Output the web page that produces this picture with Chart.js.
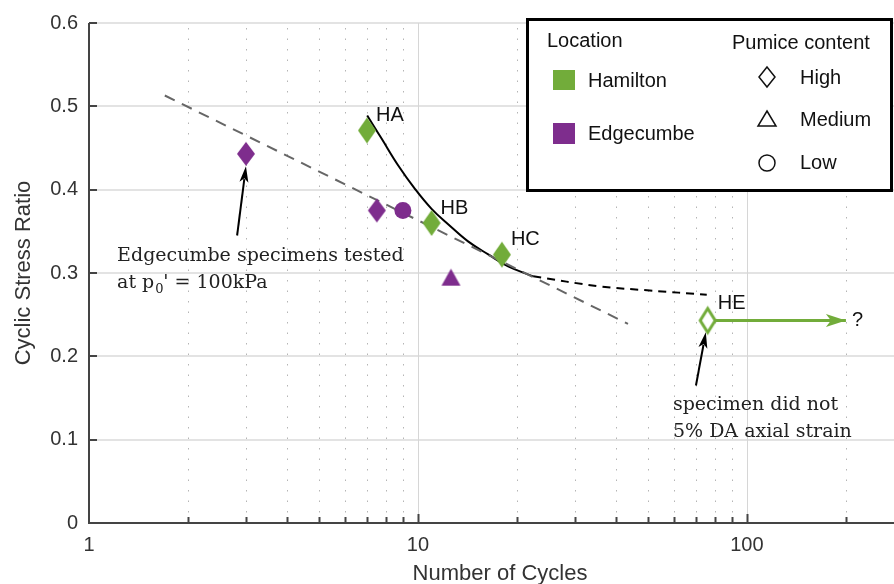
<!DOCTYPE html>
<html>
<head>
<meta charset="utf-8">
<script src="https://cdn.jsdelivr.net/npm/chart.js@4/dist/chart.umd.min.js"></script>
<style>
  html, body { margin: 0; padding: 0; background: #fff; overflow: hidden; }
  #wrap { width: 904px; height: 584px; position: relative; }
</style>
</head>
<body>
<div id="wrap"><canvas id="myChart"></canvas></div>
<script>
// data
const edgeHighCycles = [3.0, 7.5];
const edgeHighCsr = [0.443, 0.375];
const edgeMedCycles = [12.6];
const edgeMedCsr = [0.295];
const edgeLowCycles = [9.0];
const edgeLowCsr = [0.375];
const hamHighCycles = [7.0, 11.0, 18.0];
const hamHighCsr = [0.471, 0.360, 0.322];
const hamHighLabels = ['HA', 'HB', 'HC'];
const hamOpenCycles = [76];
const hamOpenCsr = [0.243];
const hamOpenLabels = ['HE'];
const runOnCycles = [76, 200];     // green arrow, test did not fail
const runOnCsr = [0.243, 0.243];
const edgeTrendCycles = [1.7, 43.5];
const edgeTrendCsr = [0.513, 0.239];
const hamCurveCycles = [7.01, 7.76, 8.71, 9.79, 11.0, 12.4, 14.2, 16.4, 18.8, 22.4];
const hamCurveCsr = [0.489, 0.461, 0.429, 0.401, 0.377, 0.358, 0.338, 0.322, 0.308, 0.296];
const hamExtCycles = [22.4, 35.7, 50.7, 75.5];
const hamExtCsr = [0.296, 0.284, 0.279, 0.274];
const xTickLabels = [1, 10, 100];
const yTicks = [0, 0.1, 0.2, 0.3, 0.4, 0.5, 0.6];

const GREEN = '#72ac3a';
const PURPLE = '#7e2d8d';

const pts = (xs, ys) => xs.map((x, i) => ({ x, y: ys[i] }));

// marker images
function diamond(w, h, fill, stroke, lw) {
  const c = document.createElement('canvas');
  const p = lw ? Math.ceil(lw) + 1 : 1;
  c.width = w + p * 2; c.height = h + p * 2;
  const g = c.getContext('2d');
  g.beginPath();
  g.moveTo(p + w / 2, p); g.lineTo(p + w, p + h / 2);
  g.lineTo(p + w / 2, p + h); g.lineTo(p, p + h / 2); g.closePath();
  g.fillStyle = fill; g.fill();
  if (lw) { g.lineWidth = lw; g.strokeStyle = stroke; g.stroke(); }
  return c;
}
function triangle(w, h, fill) {
  const c = document.createElement('canvas');
  c.width = w + 2; c.height = h + 2;
  const g = c.getContext('2d');
  g.beginPath();
  g.moveTo(1 + w / 2, 1); g.lineTo(1 + w, 1 + h); g.lineTo(1, 1 + h); g.closePath();
  g.fillStyle = fill; g.fill();
  return c;
}

const data = {
  datasets: [
    { label: 'HE', data: pts(hamOpenCycles, hamOpenCsr), pointStyle: diamond(15, 24, '#fff', GREEN, 3), order: 0, showLine: false },
    { label: 'Hamilton high', data: pts(hamHighCycles, hamHighCsr), pointStyle: diamond(18, 26, GREEN), order: 1, showLine: false },
    { label: 'Edgecumbe high', data: pts(edgeHighCycles, edgeHighCsr), pointStyle: diamond(18, 24, PURPLE), order: 1, showLine: false },
    { label: 'Edgecumbe medium', data: pts(edgeMedCycles, edgeMedCsr), pointStyle: triangle(19, 17, PURPLE), order: 1, showLine: false },
    { label: 'Edgecumbe low', data: pts(edgeLowCycles, edgeLowCsr), pointStyle: 'circle', pointRadius: 8.5, backgroundColor: PURPLE, borderWidth: 0, order: 1, showLine: false },
    { label: 'run on', data: pts(runOnCycles, runOnCsr), showLine: true, borderColor: GREEN, borderWidth: 3, pointRadius: 0, order: 5 },
    { label: 'Edgecumbe trend', data: pts(edgeTrendCycles, edgeTrendCsr), showLine: true, borderColor: '#666', borderWidth: 2, borderDash: [11, 8], pointRadius: 0, order: 6 },
    { label: 'Hamilton curve', data: pts(hamCurveCycles, hamCurveCsr), showLine: true, borderColor: '#000', borderWidth: 2, pointRadius: 0, tension: 0.4, order: 6 },
    { label: 'Hamilton ext', data: pts(hamExtCycles, hamExtCsr), showLine: true, borderColor: '#000', borderWidth: 2, borderDash: [8, 6], pointRadius: 0, tension: 0.4, order: 6 }
  ]
};

function arrow(ctx, x1, y1, x2, y2, color, len, half, lw) {
  const a = Math.atan2(y2 - y1, x2 - x1);
  ctx.save();
  ctx.strokeStyle = color; ctx.fillStyle = color; ctx.lineWidth = lw; ctx.setLineDash([]);
  ctx.beginPath();
  ctx.moveTo(x1, y1);
  ctx.lineTo(x2 - Math.cos(a) * len * 0.8, y2 - Math.sin(a) * len * 0.8);
  ctx.stroke();
  ctx.translate(x2, y2); ctx.rotate(a);
  ctx.beginPath();
  ctx.moveTo(0, 0); ctx.lineTo(-len, -half); ctx.lineTo(-len * 0.75, 0); ctx.lineTo(-len, half);
  ctx.closePath(); ctx.fill();
  ctx.restore();
}

const decor = {
  id: 'decor',
  beforeDatasetsDraw(chart) {
    const { ctx, chartArea: a, scales: { x, y } } = chart;
    ctx.save();
    // horizontal grid
    ctx.strokeStyle = '#e3e3e3'; ctx.lineWidth = 2;
    yTicks.forEach(v => {
      if (v === 0) return;
      const py = Math.round(y.getPixelForValue(v));
      ctx.beginPath(); ctx.moveTo(a.left, py); ctx.lineTo(a.right, py); ctx.stroke();
    });
    // vertical grid, major solid, minor dotted
    for (let d = 1; d <= 100; d *= 10) {
      for (let m = 1; m <= 9; m++) {
        const v = d * m;
        if (v <= 1 || v > 280) continue;
        const px = Math.round(x.getPixelForValue(v)) + 0.5;
        ctx.beginPath();
        if (m === 1) { ctx.setLineDash([]); ctx.strokeStyle = '#d6d6d6'; ctx.lineWidth = 1; }
        else { ctx.setLineDash([1.5, 9]); ctx.strokeStyle = '#b5b5b5'; ctx.lineWidth = 1; }
        ctx.moveTo(px, a.bottom); ctx.lineTo(px, a.top); ctx.stroke();
      }
    }
    ctx.setLineDash([]);
    // axes and inward ticks
    ctx.strokeStyle = '#444'; ctx.lineWidth = 2;
    ctx.beginPath();
    ctx.moveTo(a.left, a.top); ctx.lineTo(a.left, a.bottom); ctx.lineTo(a.right + 12, a.bottom);
    yTicks.forEach(v => {
      const py = Math.round(y.getPixelForValue(v));
      ctx.moveTo(a.left, py); ctx.lineTo(a.left + 8, py);
    });
    for (let d = 1; d <= 100; d *= 10) {
      for (let m = 1; m <= 9; m++) {
        const v = d * m;
        if (v <= 1 || v > 280) continue;
        const px = Math.round(x.getPixelForValue(v)) + 0.5;
        ctx.moveTo(px, a.bottom); ctx.lineTo(px, a.bottom - (m === 1 ? 9 : 6));
      }
    }
    ctx.stroke();
    ctx.restore();
  },
  afterDatasetsDraw(chart) {
    const { ctx, scales: { x, y } } = chart;
    const P = (cx, cy) => [x.getPixelForValue(cx), y.getPixelForValue(cy)];
    ctx.save();
    // green arrow head
    const [ex, ey] = P(runOnCycles[1], runOnCsr[1]);
    arrow(ctx, ex - 30, ey, ex, ey, GREEN, 20, 6.5, 3);
    ctx.font = '20px "Liberation Sans", Arial, sans-serif';
    ctx.fillStyle = '#111'; ctx.textBaseline = 'middle'; ctx.textAlign = 'left';
    ctx.fillText('?', ex + 6, ey);
    // point labels
    hamHighCycles.forEach((c, i) => {
      const [px, py] = P(c, hamHighCsr[i]);
      ctx.fillText(hamHighLabels[i], px + 9, py - 15);
    });
    const [hx, hy] = P(hamOpenCycles[0], hamOpenCsr[0]);
    ctx.fillText(hamOpenLabels[0], hx + 10, hy - 17);

    // annotation arrows
    const [t1x, t1y] = P(2.82, 0.345);
    const [h1x, h1y] = P(3.0, 0.428);
    arrow(ctx, t1x, t1y, h1x, h1y, '#000', 16, 4.5, 2);
    const [t2x, t2y] = P(70, 0.165);
    const [h2x, h2y] = P(75, 0.229);
    arrow(ctx, t2x, t2y, h2x, h2y, '#000', 16, 4.5, 2);

    // annotation texts
    ctx.fillStyle = '#222'; ctx.textBaseline = 'alphabetic';
    ctx.font = '19px "DejaVu Serif", "Liberation Serif", serif';
    let tx = t1x - 120, ty = t1y + 25;
    ctx.fillText('Edgecumbe specimens tested', tx, ty);
    ctx.fillText('at p', tx, ty + 27);
    let w = ctx.measureText('at p').width;
    ctx.font = '13px "DejaVu Serif", "Liberation Serif", serif';
    ctx.fillText('0', tx + w + 1, ty + 32);
    ctx.font = '19px "DejaVu Serif", "Liberation Serif", serif';
    ctx.fillText("' = 100kPa", tx + w + 9, ty + 27);
    tx = t2x - 23; ty = t2y + 24;
    ctx.fillText('specimen did not', tx, ty);
    ctx.fillText('5% DA axial strain', tx, ty + 27);

    // legend box
    ctx.fillStyle = '#fff';
    ctx.fillRect(527, 20, 365, 171);
    ctx.lineWidth = 3; ctx.strokeStyle = '#000';
    ctx.strokeRect(527.5, 19.5, 364, 171);
    ctx.fillStyle = '#111'; ctx.textBaseline = 'middle'; ctx.textAlign = 'left';
    ctx.font = '20px "Liberation Sans", Arial, sans-serif';
    ctx.fillText('Location', 547, 41);
    ctx.fillText('Pumice content', 732, 43);
    ctx.fillStyle = GREEN; ctx.fillRect(553, 70, 22, 20);
    ctx.fillStyle = PURPLE; ctx.fillRect(553, 123, 22, 21);
    ctx.fillStyle = '#111';
    ctx.fillText('Hamilton', 588, 81);
    ctx.fillText('Edgecumbe', 588, 134);
    ctx.fillText('High', 800, 78);
    ctx.fillText('Medium', 800, 120);
    ctx.fillText('Low', 800, 163);
    ctx.strokeStyle = '#111'; ctx.lineWidth = 1.5;
    ctx.beginPath();
    ctx.moveTo(767, 67); ctx.lineTo(775, 77); ctx.lineTo(767, 87); ctx.lineTo(759, 77); ctx.closePath();
    ctx.stroke();
    ctx.beginPath();
    ctx.moveTo(767, 111); ctx.lineTo(776, 126); ctx.lineTo(758, 126); ctx.closePath();
    ctx.stroke();
    ctx.beginPath(); ctx.arc(767, 163, 8, 0, Math.PI * 2); ctx.stroke();

    // axis titles
    ctx.fillStyle = '#333';
    ctx.font = '22px "Liberation Sans", Arial, sans-serif';
    ctx.textAlign = 'center'; ctx.textBaseline = 'alphabetic';
    ctx.fillText('Number of Cycles', 500, 580);
    ctx.save();
    ctx.translate(30, (chart.chartArea.top + chart.chartArea.bottom) / 2);
    ctx.rotate(-Math.PI / 2);
    ctx.fillText('Cyclic Stress Ratio', 0, 0);
    ctx.restore();
    ctx.restore();
  }
};

const config = {
  type: 'scatter',
  data,
  options: {
    responsive: true,
    maintainAspectRatio: false,
    animation: false,
    layout: { padding: { top: 18, right: 0, left: 0, bottom: 0 } },
    plugins: { legend: { display: false }, tooltip: { enabled: false } },
    scales: {
      x: {
        type: 'logarithmic',
        min: 1, max: 280,
        grid: { display: false, drawTicks: false },
        border: { display: false },
        afterFit: s => { s.height = 61; },
        ticks: {
          autoSkip: false, maxRotation: 0, padding: 10, color: '#333',
          font: { family: '"Liberation Sans", Arial, sans-serif', size: 20 },
          callback: v => xTickLabels.includes(v) ? String(v) : ''
        }
      },
      y: {
        min: 0, max: 0.6,
        grid: { display: false, drawTicks: false },
        border: { display: false },
        afterFit: s => { s.width = 89; },
        afterBuildTicks: s => { s.ticks = yTicks.map(v => ({ value: v })); },
        ticks: {
          padding: 11, color: '#333',
          font: { family: '"Liberation Sans", Arial, sans-serif', size: 20 },
          callback: v => String(Math.round(v * 10) / 10)
        }
      }
    }
  },
  plugins: [decor]
};

const myChart = new Chart(document.getElementById('myChart'), config);
</script>
</body>
</html>
